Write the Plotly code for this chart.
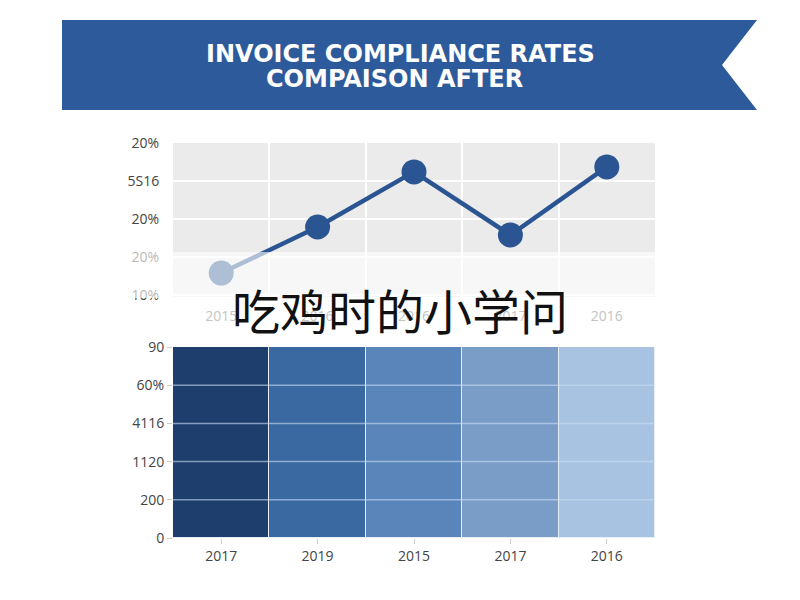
import plotly.graph_objects as go

# ---- data ----
title_lines = ["INVOICE COMPLIANCE RATES", "COMPAISON AFTER"]
watermark = "吃鸡时的小学问"

line_categories = ["2015", "2016", "2016", "2017", "2016"]
line_values = [0.58, 1.79, 3.24, 1.58, 3.37]
line_tickvals = [0, 1, 2, 3, 4]
line_ticktext = ["10%", "20%", "20%", "5S16", "20%"]

bar_categories = ["2017", "2019", "2015", "2017", "2016"]
bar_values = [90, 90, 90, 90, 90]
bar_colors = ["#1e3f6e", "#3a69a2", "#5a85ba", "#7a9dc8", "#a8c3e2"]
bar_tickvals = [0, 18, 36, 54, 72, 90]
bar_ticktext = ["0", "200", "1120", "4116", "60%", "90"]

W, H = 800, 600
OX, OY = 8, 8  # page body offset


def px(x):
    return (x - OX) / W


def py(y):
    return 1 - (y - OY) / H


fig = go.Figure()

xpos = list(range(len(line_categories)))
fig.add_trace(go.Scatter(
    x=xpos, y=line_values, mode="lines+markers",
    line=dict(color="#2b5592", width=4.5),
    marker=dict(size=25, color="#2b5592"),
    xaxis="x", yaxis="y", showlegend=False, hoverinfo="skip"))

fig.add_trace(go.Bar(
    x=list(range(len(bar_categories))), y=bar_values,
    marker=dict(color=bar_colors, line=dict(color="#e8eef6", width=1)),
    xaxis="x2", yaxis="y2", showlegend=False, hoverinfo="skip"))

tickfont = dict(family="Open Sans, Arial", size=14, color="#444444")

fig.update_layout(
    width=W, height=H, margin=dict(l=0, r=0, t=0, b=0, pad=0, autoexpand=False),
    autosize=False,
    paper_bgcolor="white", plot_bgcolor="#ebebeb",
    bargap=0.0,
    xaxis=dict(domain=[px(173), px(655)], range=[-0.5, 4.5], automargin=False,
               tickvals=xpos, ticktext=line_categories,
               tickfont=dict(family="Open Sans, Arial", size=14, color="#c4c4c4"),
               showgrid=False, zeroline=False, showline=False,
               ticks="outside", ticklen=6, tickcolor="rgba(0,0,0,0)",
               minor=dict(tickvals=[0.5, 1.5, 2.5, 3.5], showgrid=True,
                          gridcolor="white", gridwidth=2),
               anchor="y", fixedrange=True),
    yaxis=dict(domain=[py(297), py(143)], range=[-0.05, 4.0], automargin=False,
               tickvals=line_tickvals, ticktext=line_ticktext,
               tickfont=tickfont, showgrid=True, gridcolor="white", gridwidth=2,
               zeroline=False, showline=False,
               ticks="outside", ticklen=10, tickcolor="rgba(0,0,0,0)",
               anchor="x"),
    xaxis2=dict(domain=[px(173), px(655)], range=[-0.5, 4.5], automargin=False,
                tickvals=list(range(len(bar_categories))), ticktext=bar_categories,
                tickfont=tickfont, showgrid=False, zeroline=False, showline=False,
                ticks="outside", ticklen=5, tickcolor="#cccccc",
                anchor="y2"),
    yaxis2=dict(domain=[py(538), py(347)], range=[0, 90], automargin=False,
                tickvals=bar_tickvals, ticktext=bar_ticktext,
                tickfont=tickfont, showgrid=False, zeroline=False, showline=False,
                ticks="outside", ticklen=5, tickcolor="#cccccc",
                anchor="x2"),
)

shapes = []
# title ribbon
path = (f"M {px(62)},{py(20)} L {px(757)},{py(20)} L {px(722)},{py(65)} "
        f"L {px(757)},{py(110)} L {px(62)},{py(110)} Z")
shapes.append(dict(type="path", xref="paper", yref="paper", path=path,
                   fillcolor="#2d5a9a", line=dict(width=0), layer="above"))
# translucent white band over the lower part of the line chart
shapes.append(dict(type="rect", xref="paper", yref="paper",
                   x0=px(115), x1=px(655), y0=py(298), y1=py(252),
                   fillcolor="rgba(255,255,255,0.62)", line=dict(width=0), layer="above"))
# light gridlines across bars
for v in bar_tickvals[1:-1]:
    shapes.append(dict(type="line", xref="x2", yref="y2", x0=-0.5, x1=4.5, y0=v, y1=v,
                       line=dict(color="rgba(200,220,245,0.6)", width=1.5), layer="above"))
fig.update_layout(shapes=shapes)

title_font = dict(family="DejaVu Sans, Arial", size=24, color="white", weight="bold")
annotations = [
    dict(text=title_lines[0], x=px(400), y=py(54), xref="paper", yref="paper",
         xanchor="center", yanchor="middle", showarrow=False, font=title_font),
    dict(text=title_lines[1], x=px(394), y=py(79), xref="paper", yref="paper",
         xanchor="center", yanchor="middle", showarrow=False, font=title_font),
    dict(text=watermark, x=px(400), y=py(309), xref="paper", yref="paper",
         xanchor="center", yanchor="middle", showarrow=False,
         font=dict(family="Noto Sans CJK SC", size=48, color="#111111")),
]
fig.update_layout(annotations=annotations)

fig.write_html("out.html")
